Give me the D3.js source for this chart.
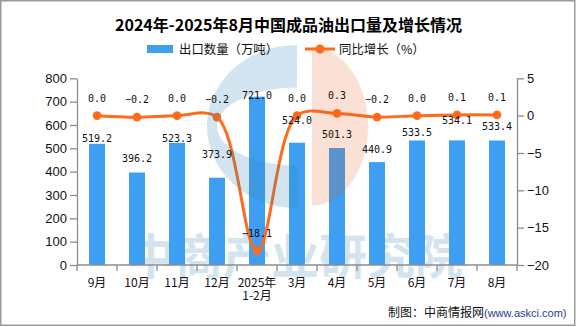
<!DOCTYPE html>
<html>
<head>
<meta charset="utf-8">
<script src="https://cdn.jsdelivr.net/npm/d3@7"></script>
<style>
  html, body { margin: 0; padding: 0; background: #fff; }
  svg { display: block; }
</style>
</head>
<body>
<svg id="chart" width="576" height="327"></svg>
<script>
// ---------------- data ----------------
const categories = ["9月", "10月", "11月", "12月", "2025年\n1-2月", "3月", "4月", "5月", "6月", "7月", "8月"];
const exportVolume = [519.2, 396.2, 523.3, 373.9, 721.0, 524.0, 501.3, 440.9, 533.5, 534.1, 533.4];
const yoyGrowth = [0.0, -0.2, 0.0, -0.2, -18.1, 0.0, 0.3, -0.2, 0.0, 0.1, 0.1];
const leftTicks = [0, 100, 200, 300, 400, 500, 600, 700, 800];
const rightTicks = [-20, -15, -10, -5, 0, 5];
const titleText = "2024年-2025年8月中国成品油出口量及增长情况";
const seriesNames = ["出口数量（万吨）", "同比增长（%）"];
const sourceLabel = "制图：中商情报网";
const sourceUrl = "(www.askci.com)";
const watermarkText = "中商产业研究院";

// label placement tweaks (layout only; px above bar top)
const barLabelLift = [6, 14.7, 4.6, 23.9, 1.2, 22.4, 14.2, 13.3, 7.7, 19.8, 14.2];

// ---------------- layout ----------------
const W = 576, H = 327;
const plot = { left: 77, right: 517, top: 78.3, bottom: 265 };
const barColor = "#3e9ef2";
const lineColor = "#ff6a1c";
const axisColor = "#8c8c8c";

const svg = d3.select("#chart");

const x = d3.scaleBand().domain(categories).range([plot.left, plot.right])
  .paddingInner(0.6).paddingOuter(0.3);
const yL = d3.scaleLinear().domain([0, 800]).range([plot.bottom, plot.top]);
const yR = d3.scaleLinear().domain([-20, 5]).range([plot.bottom, plot.top]);
const cx = c => x(c) + x.bandwidth() / 2;

// watermark text (behind bars)
svg.append("text")
  .attr("x", (plot.left + plot.right) / 2 - 2)
  .attr("y", 274)
  .attr("text-anchor", "middle")
  .attr("font-family", "Noto Sans CJK SC")
  .attr("font-weight", "bold")
  .attr("font-size", 48)
  .attr("fill", "#d3e4ef")
  .text(watermarkText);

// bars
svg.append("g").selectAll("rect").data(exportVolume).join("rect")
  .attr("x", (d, i) => x(categories[i]))
  .attr("y", d => yL(d))
  .attr("width", x.bandwidth())
  .attr("height", d => yL(0) - yL(d))
  .attr("fill", barColor);

// line
const lineGen = d3.line()
  .x((d, i) => cx(categories[i]))
  .y(d => yR(d))
  .curve(d3.curveCatmullRom.alpha(0.5));
svg.append("path").datum(yoyGrowth)
  .attr("d", lineGen)
  .attr("fill", "none")
  .attr("stroke", lineColor)
  .attr("stroke-width", 3);
svg.append("g").selectAll("circle").data(yoyGrowth).join("circle")
  .attr("cx", (d, i) => cx(categories[i]))
  .attr("cy", d => yR(d))
  .attr("r", 4.3)
  .attr("fill", lineColor);

// logo watermark (on top, translucent)
const logo = svg.append("g").attr("pointer-events", "none");
// blue "C": half ellipse minus inner half ellipse
const lcx = 297, lcy = 126.5;
const blueOuter = { rx: 90, ry: 81.5 }, blueInner = { rx: 80, ry: 39 };
const bluePath =
  `M${lcx},${lcy - blueOuter.ry} A${blueOuter.rx},${blueOuter.ry} 0 0 0 ${lcx},${lcy + blueOuter.ry}` +
  ` L${lcx},${lcy + blueInner.ry} A${blueInner.rx},${blueInner.ry} 0 0 1 ${lcx},${lcy - blueInner.ry} Z`;
logo.append("path").attr("d", bluePath)
  .attr("fill", "rgb(47,130,181)").attr("fill-opacity", 0.216);
const pcx = 312, prx = 56, pry = 79;
const peachPath = `M${pcx},${lcy - pry} A${prx},${pry} 0 0 1 ${pcx},${lcy + pry} Z`;
logo.append("path").attr("d", peachPath)
  .attr("fill", "rgb(233,94,29)").attr("fill-opacity", 0.186);

// axes
const axisL = d3.axisLeft(yL).tickValues(leftTicks).tickSize(7).tickSizeOuter(0).tickPadding(3);
const gL = svg.append("g").attr("transform", `translate(${plot.left},0)`).call(axisL);
const axisR = d3.axisRight(yR).tickValues(rightTicks).tickSize(7).tickSizeOuter(0).tickPadding(3)
  .tickFormat(d => d < 0 ? "\u2212" + Math.abs(d) : String(d));
const gR = svg.append("g").attr("transform", `translate(${plot.right},0)`).call(axisR);
[gL, gR].forEach(g => {
  g.select(".domain").attr("stroke", axisColor).attr("stroke-width", 1.3);
  g.selectAll(".tick line").attr("stroke", axisColor).attr("stroke-width", 1.3);
  g.selectAll(".tick text").attr("fill", "#111")
    .attr("font-family", "Liberation Sans").attr("font-size", 13);
});

// x axis
const gX = svg.append("g");
gX.append("line")
  .attr("x1", plot.left).attr("x2", plot.right)
  .attr("y1", plot.bottom).attr("y2", plot.bottom)
  .attr("stroke", axisColor).attr("stroke-width", 1.3);
const boundaries = categories.map(c => cx(c) - x.step() / 2).concat([cx(categories[categories.length - 1]) + x.step() / 2]);
gX.selectAll("line.tk").data(boundaries).join("line").attr("class", "tk")
  .attr("x1", d => d).attr("x2", d => d)
  .attr("y1", plot.bottom).attr("y2", plot.bottom + 6)
  .attr("stroke", axisColor).attr("stroke-width", 1.3);
const xl = gX.selectAll("text.xl").data(categories).join("text").attr("class", "xl")
  .attr("x", d => cx(d))
  .attr("y", 286.5)
  .attr("text-anchor", "middle")
  .attr("font-family", "Noto Sans CJK SC")
  .attr("font-size", 12)
  .attr("fill", "#111");
xl.each(function(d) {
  const lines = d.split("\n");
  d3.select(this).selectAll("tspan").data(lines).join("tspan")
    .attr("x", cx(d))
    .attr("dy", (l, i) => i === 0 ? 0 : 13.5)
    .text(l => l);
});

// data labels
const fmt = d3.format(".1f");
svg.append("g").selectAll("text").data(exportVolume).join("text")
  .attr("x", (d, i) => cx(categories[i]))
  .attr("y", (d, i) => yL(d) - barLabelLift[i] + 3.7)
  .attr("text-anchor", "middle")
  .attr("font-family", "DejaVu Sans Mono")
  .attr("font-size", 10)
  .attr("fill", "#111")
  .text(d => fmt(d));
svg.append("g").selectAll("text").data(yoyGrowth).join("text")
  .attr("x", (d, i) => cx(categories[i]))
  .attr("y", d => yR(d) - 17.7 + 3.7)
  .attr("text-anchor", "middle")
  .attr("font-family", "DejaVu Sans Mono")
  .attr("font-size", 10)
  .attr("fill", "#111")
  .text(d => fmt(d));

// title
svg.append("text")
  .attr("x", 288.5).attr("y", 31)
  .attr("text-anchor", "middle")
  .attr("font-family", "Noto Sans CJK SC")
  .attr("font-weight", "bold")
  .attr("font-size", 16)
  .attr("fill", "#000")
  .text(titleText);

// legend
const lg = svg.append("g");
lg.append("rect").attr("x", 147).attr("y", 45).attr("width", 26).attr("height", 8).attr("fill", barColor);
lg.append("text").attr("x", 179).attr("y", 53.5)
  .attr("font-family", "Noto Sans CJK SC").attr("font-size", 12.4).attr("fill", "#111")
  .text(seriesNames[0]);
lg.append("line").attr("x1", 305).attr("x2", 335).attr("y1", 49).attr("y2", 49)
  .attr("stroke", lineColor).attr("stroke-width", 3);
lg.append("circle").attr("cx", 320).attr("cy", 49).attr("r", 4.5).attr("fill", lineColor);
lg.append("text").attr("x", 339).attr("y", 53.5)
  .attr("font-family", "Noto Sans CJK SC").attr("font-size", 12.4).attr("fill", "#111")
  .text(seriesNames[1]);

// source
const src = svg.append("text").attr("x", 566.5).attr("y", 316.5).attr("text-anchor", "end");
src.append("tspan").attr("font-family", "Noto Sans CJK SC").attr("font-size", 12).attr("fill", "#111").text(sourceLabel);
src.append("tspan").attr("font-family", "Liberation Sans").attr("font-size", 11).attr("fill", "#1f3d8f").text(sourceUrl);

// border
svg.append("rect").attr("x", 0.75).attr("y", 0.75).attr("width", 574).attr("height", 324.5)
  .attr("fill", "none").attr("stroke", "#9a9a9a").attr("stroke-width", 1.5);
</script>
</body>
</html>
